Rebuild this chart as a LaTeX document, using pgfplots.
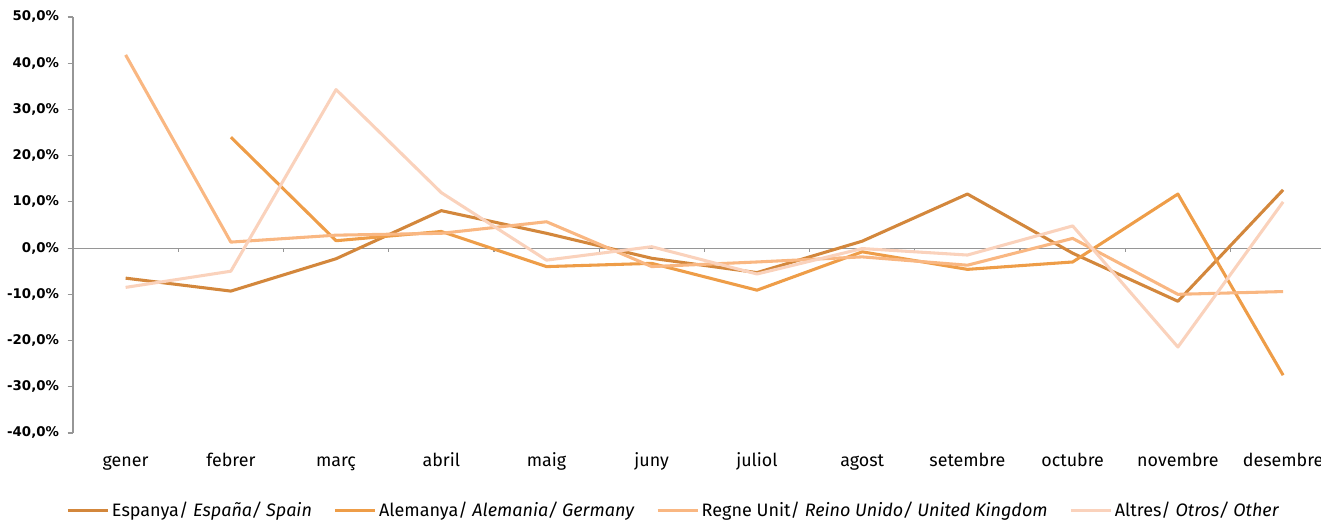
\documentclass[border=0pt]{standalone}
\usepackage{fontspec}
\setmainfont{Fira Sans}
\newfontfamily\tickfont{DejaVu Sans}
\usepackage{pgfplots}
\pgfplotsset{compat=1.18}
\definecolor{cEsp}{RGB}{211,135,60}
\definecolor{cAle}{RGB}{238,157,72}
\definecolor{cReg}{RGB}{249,183,130}
\definecolor{cAlt}{RGB}{250,210,188}
\definecolor{axgray}{RGB}{150,150,150}
\begin{document}
\begin{tikzpicture}
\begin{axis}[
  name=ax,
  scale only axis,
  width=936pt, height=312pt,
  xmin=-0.5, xmax=11.36,
  ymin=-40, ymax=50,
  ytick={-40,-30,...,50},
  axis y line*=left,
  axis x line*=bottom,
  x axis line style={draw=none},
  y axis line style={draw=axgray, line width=0.9pt, -},
  ytick style={draw=axgray, line width=0.9pt},
  major tick length=4pt,
  tick align=outside,
  xtick={0,...,11},
  xticklabels={gener,febrer,març,abril,maig,juny,juliol,agost,setembre,octubre,novembre,desembre},
  xtick style={draw=none},
  xticklabel style={font=\fontsize{13.4}{15}\selectfont, anchor=base, yshift=-21pt},
  /pgf/number format/assume math mode=true,
  yticklabel={\pgfmathprintnumber[fixed,fixed zerofill,precision=1,use comma]{\tick}\%},
  yticklabel style={font=\tickfont\bfseries\fontsize{10}{12}\selectfont, xshift=-3pt},
  clip=false,
  legend columns=4,
  legend style={at={(0.4816,-0.152)}, anchor=north, draw=none, fill=none,
    font=\fontsize{13.5}{16}\selectfont,
    /tikz/every even column/.append style={column sep=14pt}},
  legend image code/.code={\draw[#1] (0pt,0pt) -- (30pt,0pt);},
  every axis plot/.append style={line width=2.3pt, line join=round},
]
\draw[axgray, line width=0.9pt] (axis cs:-0.5,0) -- (axis cs:11.36,0);
\pgfplotsinvokeforeach{0.5,1.5,2.5,3.5,4.5,5.5,6.5,7.5,8.5,9.5,10.5}{
  \draw[axgray, line width=0.9pt] (axis cs:#1,0) -- ([yshift=-3pt]axis cs:#1,0);
}
\addplot[cEsp] coordinates {(0,-6.5) (1,-9.3) (2,-2.3) (3,8.1) (4,3.2) (5,-2.2) (6,-5.3) (7,1.5) (8,11.7) (9,-1.1) (10,-11.5) (11,12.6)};
\addlegendentry{Espanya/ \textit{España/ Spain}}
\addplot[cAle] coordinates {(1,24.0) (2,1.6) (3,3.6) (4,-4.0) (5,-3.3) (6,-9.1) (7,-0.8) (8,-4.6) (9,-3.0) (10,11.7) (11,-27.5)};
\addlegendentry{Alemanya/ \textit{Alemania/ Germany}}
\addplot[cReg] coordinates {(0,41.8) (1,1.3) (2,2.8) (3,3.2) (4,5.7) (5,-4.0) (6,-3.0) (7,-1.9) (8,-3.7) (9,2.1) (10,-10.0) (11,-9.4)};
\addlegendentry{Regne Unit/ \textit{Reino Unido/ United Kingdom}}
\addplot[cAlt] coordinates {(0,-8.5) (1,-5.0) (2,34.3) (3,12.0) (4,-2.6) (5,0.3) (6,-5.6) (7,-0.1) (8,-1.5) (9,4.8) (10,-21.4) (11,10.0)};
\addlegendentry{Altres/ \textit{Otros/ Other}}
\end{axis}
\pgfresetboundingbox
\path ([shift={(-54.75pt,12.75pt)}]ax.north west) rectangle ([shift={(0pt,-65.25pt)}]ax.south east);
\end{tikzpicture}
\end{document}
